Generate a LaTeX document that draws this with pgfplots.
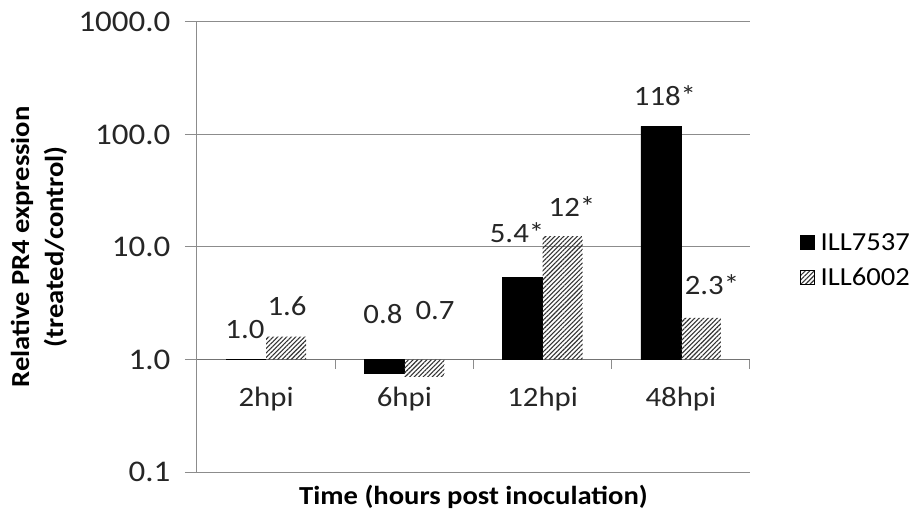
\documentclass[border=0pt]{standalone}
\usepackage{fontspec}
\setmainfont{Carlito}[FakeStretch=1.1]
\usepackage{pgfplots}
\pgfplotsset{compat=1.18}
\usetikzlibrary{patterns.meta}
\definecolor{gridgray}{RGB}{140,140,140}
\begin{document}
\begin{tikzpicture}
\begin{axis}[
  scale only axis, width=553pt, height=450pt,
  ymode=log, ymin=0.1, ymax=1000,
  xmin=-0.5, xmax=3.5,
  axis lines*=left,
  axis line style={gridgray, line width=1pt},
  ytick={0.1,1,10,100,1000},
  yticklabels={0.1,1.0,10.0,100.0,1000.0},
  yminorticks=false,
  ymajorgrids, grid style={gridgray, line width=1pt},
  tick align=outside,
  y tick style={gridgray, line width=1pt},
  major tick length=12pt,
  xtick={0,1,2,3}, xticklabels={2hpi,6hpi,12hpi,48hpi},
  x tick style={draw=none},
  xticklabel style={anchor=center, yshift=85pt, font=\fontsize{28}{32}\selectfont},
  /pgf/number format/assume math mode=true,
  tick label style={text=black!85},
  yticklabel style={xshift=-11pt, font=\fontsize{30}{34}\selectfont},
  xlabel={Time (hours post inoculation)},
  xlabel style={font=\fontsize{26}{30}\selectfont\bfseries, at={(rel axis cs:0.5,0)}, anchor=center, yshift=-25pt},
  ylabel={Relative PR4 expression\\(treated/control)},
  ylabel style={font=\fontsize{26}{34}\selectfont\bfseries, align=center, at={(-0.286,0.5)}, anchor=center},
  legend style={at={(1.085,0.471)}, anchor=west, draw=none, fill=none,
    font=\fontsize{26}{30}\selectfont, row sep=12pt,
    /tikz/every odd column/.append style={column sep=4pt}},
  legend image code/.code={\draw[#1] (0pt,-7pt) rectangle (14pt,7pt);},
  legend cell align=left,
  clip=false,
]
\draw[black!55, line width=1pt] (axis cs:-0.5,1) -- (axis cs:3.5,1);
\addplot[ybar, bar width=40pt, bar shift=-20pt, fill=black, draw=black]
  coordinates {(0,1.0) (1,0.75) (2,5.4) (3,118)};
\addplot[ybar, bar width=40pt, bar shift=20pt, draw=none,
  pattern={Lines[angle=45,distance=3.2pt,line width=1.1pt]}, pattern color=black!80]
  coordinates {(0,1.6) (1,0.70) (2,12.5) (3,2.35)};
\legend{ILL7537, ILL6002}
\addplot[forget plot, only marks, mark=none, nodes near coords,
  point meta=explicit symbolic,
  nodes near coords style={anchor=center, font=\fontsize{28}{32}\selectfont, text=black!85}]
  coordinates {(-0.153,1.85)[1.0] (0.151,2.96)[1.6] (0.845,2.56)[0.8] (1.222,2.73)[0.7]
               (1.815,13.5)[5.4*] (2.212,22.9)[12*] (2.885,222)[118*] (3.225,4.64)[2.3*]};
\draw[gridgray, line width=1pt] (axis cs:0.5,1) -- ([yshift=-9pt]axis cs:0.5,1);
\draw[gridgray, line width=1pt] (axis cs:1.5,1) -- ([yshift=-9pt]axis cs:1.5,1);
\draw[gridgray, line width=1pt] (axis cs:2.5,1) -- ([yshift=-9pt]axis cs:2.5,1);
\draw[gridgray, line width=1pt] (axis cs:3.5,1) -- ([yshift=-9pt]axis cs:3.5,1);
\coordinate (bl) at (rel axis cs:0,0);
\end{axis}
\pgfresetboundingbox
\path[use as bounding box] (bl) ++(-197pt,-43pt) rectangle ++(914pt,515pt);
\end{tikzpicture}
\end{document}
